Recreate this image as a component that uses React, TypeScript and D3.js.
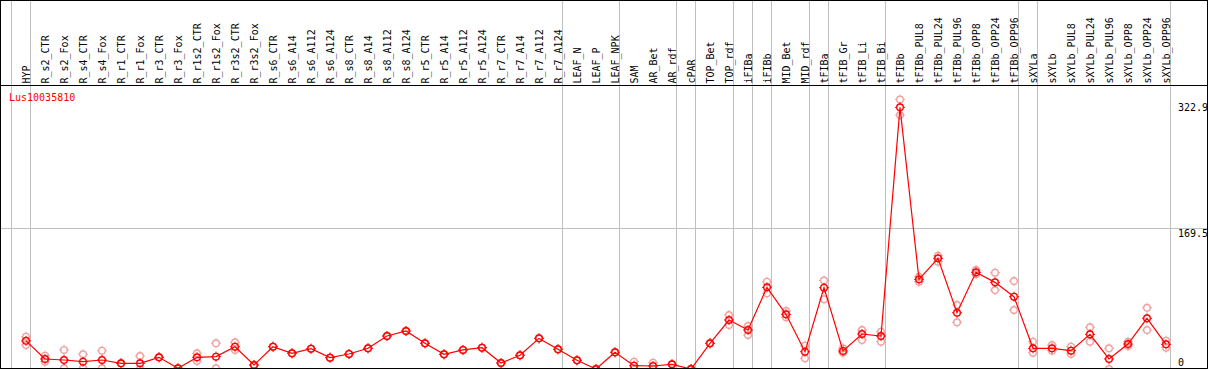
import React from "react";
import * as d3 from "d3";

const geneName = "Lus10035810";

const samples = [
  "HYP", "R_s2_CTR", "R_s2_Fox", "R_s4_CTR", "R_s4_Fox", "R_r1_CTR", "R_r1_Fox", "R_r3_CTR", "R_r3_Fox",
  "R_r1s2_CTR", "R_r1s2_Fox", "R_r3s2_CTR", "R_r3s2_Fox", "R_s6_CTR", "R_s6_A14", "R_s6_A112", "R_s6_A124",
  "R_s8_CTR", "R_s8_A14", "R_s8_A112", "R_s8_A124", "R_r5_CTR", "R_r5_A14", "R_r5_A112", "R_r5_A124",
  "R_r7_CTR", "R_r7_A14", "R_r7_A112", "R_r7_A124", "LEAF_N", "LEAF_P", "LEAF_NPK", "SAM", "AR_Bet", "AR_rdf",
  "cPAR", "TOP_Bet", "TOP_rdf", "iFIBa", "iFIBb", "MID_Bet", "MID_rdf", "tFIBa", "tFIB_Gr", "tFIB_Li", "tFIB_Bi",
  "tFIBb", "tFIBb_PUL8", "tFIBb_PUL24", "tFIBb_PUL96", "tFIBb_OPP8", "tFIBb_OPP24", "tFIBb_OPP96",
  "sXYLa", "sXYLb", "sXYLb_PUL8", "sXYLb_PUL24", "sXYLb_PUL96", "sXYLb_OPP8", "sXYLb_OPP24", "sXYLb_OPP96",
];

const meanValues = [
  33.7, 12, 10.8, 8.8, 10.8, 6.8, 6.8, 14, 0.8, 14, 14.8, 26.7, 4.8, 26.7, 18.8, 24.3, 13.6,
  18, 24.8, 39.5, 45.5, 30.8, 17.6, 22.8, 25.5, 7.2, 16.4, 36.7, 23.6, 10.4, 0, 20, 4, 3.6, 5.6,
  0, 30.8, 58.7, 46.7, 97.8, 65.5, 20.7, 97.4, 21.6, 41.9, 39.5,
  313.4, 107.4, 132.6, 67.4, 115.8, 103.8, 86.6,
  24.8, 24.8, 22, 41.5, 12, 29.9, 60.7, 29.5,
];

const replicateA = [
  38.7, 16, 22.8, 17.6, 21.9, 6.8, 15.6, 14, 0.8, 18.8, 30.8, 32, 4.8, 26.7, 18.8, 24.3, 13.6,
  18, 24.8, 39.5, 45.5, 30.8, 17.6, 22.8, 25.5, 7.2, 16.4, 36.7, 23.6, 10.4, 0, 20, 8.8, 7.6, 5.6,
  0, 30.8, 64.7, 51.5, 104.6, 69.5, 27.9, 106, 24.8, 46.7, 44.7,
  322.9, 110.5, 135.7, 76.6, 118.6, 115.4, 105.4,
  32.7, 28.7, 26.7, 49.9, 24.8, 32.7, 73.4, 33.9,
];

const replicateB = [
  28.7, 8.7, 0.8, 0.8, 0.8, 6.8, 0, 14, 0.8, 9.6, 0.8, 22.8, 4.8, 26.7, 18.8, 24.3, 13.6,
  18, 24.8, 39.5, 45.5, 30.8, 17.6, 22.8, 25.5, 7.2, 16.4, 36.7, 23.6, 10.4, 0, 20, 0, 0, 5.6,
  0, 30.8, 52.7, 40.7, 90.7, 61.9, 12.8, 83.5, 19.6, 34.7, 32.7,
  304.2, 104.6, 128.5, 55.9, 113.4, 94.6, 70.7,
  19.6, 22, 18, 32.7, 0, 27.5, 46.7, 25.5,
];

const groupEnds = [-1, 0, 28, 31, 34, 35, 37, 38, 39, 41, 42, 45, 52, 53, 60];
const yTickLabels = ["322.9", "169.5", "0"];
const yMax = 339;
const midValue = 169.5;

const W = 1209;
const H = 370;
const right = 1207;
const bottom = 368;
const headerY = 85;

function Marker({ cx, cy, color }: { cx: number; cy: number; color: string }) {
  const r = 3.3;
  const t = 5;
  return (
    <g stroke={color} fill="none" strokeWidth={1.4}>
      <circle cx={cx} cy={cy} r={r} />
      <line x1={cx} y1={cy - r} x2={cx} y2={cy - t} strokeWidth={1} />
      <line x1={cx} y1={cy + r} x2={cx} y2={cy + t} strokeWidth={1} />
      <line x1={cx - r} y1={cy} x2={cx - t} y2={cy} strokeWidth={1} />
      <line x1={cx + r} y1={cy} x2={cx + t} y2={cy} strokeWidth={1} />
    </g>
  );
}

export default function App() {
  const x = d3.scalePoint<string>().domain(samples).range([26, 26 + 19 * (samples.length - 1)]);
  const step = x.step();
  const y = d3.scaleLinear().domain([0, yMax]).range([369, 86]);
  const font = "'DejaVu Sans Mono', monospace";

  const line = d3
    .line<number>()
    .x((_, i) => x(samples[i]) as number)
    .y((d) => y(d));

  const gridXs = groupEnds.map((gi) =>
    gi < 0 ? (x(samples[0]) as number) - step + 4.5 : (x(samples[gi]) as number) + 4.5
  );
  const midY = Math.round(y(midValue)) + 0.5;

  return (
    <svg width={W} height={H} style={{ position: "absolute", left: 0, top: 0, background: "#fff" }}>
      <rect x={0} y={0} width={W} height={H} fill="#fff" />
      {gridXs.map((gx, i) => (
        <line key={"gx" + i} x1={Math.floor(gx) + 0.5} x2={Math.floor(gx) + 0.5} y1={0} y2={bottom} stroke="#c0c0c0" strokeWidth={1} />
      ))}
      <line x1={0} x2={right} y1={midY} y2={midY} stroke="#c0c0c0" strokeWidth={1} />
      <line x1={0} x2={right} y1={headerY + 0.5} y2={headerY + 0.5} stroke="#000" strokeWidth={1} />
      {samples.map((s) => (
        <text
          key={s}
          transform={`translate(${(x(s) as number) + 3.5},${83.5}) rotate(-90)`}
          fontFamily={font}
          fontSize={10}
          fill="#000"
        >
          {s}
        </text>
      ))}
      <text x={9} y={100.5} fontFamily={font} fontSize={10} fill="#ff0000">
        {geneName}
      </text>
      <text x={1178} y={111} fontFamily={font} fontSize={10} fill="#000">{yTickLabels[0]}</text>
      <text x={1178} y={236.5} fontFamily={font} fontSize={10} fill="#000">{yTickLabels[1]}</text>
      <text x={1178} y={366} fontFamily={font} fontSize={10} fill="#000">{yTickLabels[2]}</text>
      <g>
        {samples.map((s, i) => (
          <g key={"r" + s}>
            <Marker cx={x(s) as number} cy={y(replicateA[i])} color="#f0a0a0" />
            <Marker cx={x(s) as number} cy={y(replicateB[i])} color="#f0a0a0" />
          </g>
        ))}
      </g>
      <path d={line(meanValues) || ""} fill="none" stroke="#ff0000" strokeWidth={1.2} />
      {samples.map((s, i) => (
        <Marker key={"m" + s} cx={x(s) as number} cy={y(meanValues[i])} color="#ff0000" />
      ))}
      <rect x={0.5} y={0.5} width={right} height={bottom} fill="none" stroke="#000" strokeWidth={1} />
      <rect x={right + 0.5} y={0} width={W - right} height={H} fill="#fff" />
      <rect x={0} y={bottom + 1} width={W} height={H - bottom} fill="#fff" />
      <line x1={right + 0.5} x2={right + 0.5} y1={0} y2={bottom + 0.5} stroke="#000" />
      <line x1={0} x2={right + 0.5} y1={bottom + 0.5} y2={bottom + 0.5} stroke="#000" />
    </svg>
  );
}
